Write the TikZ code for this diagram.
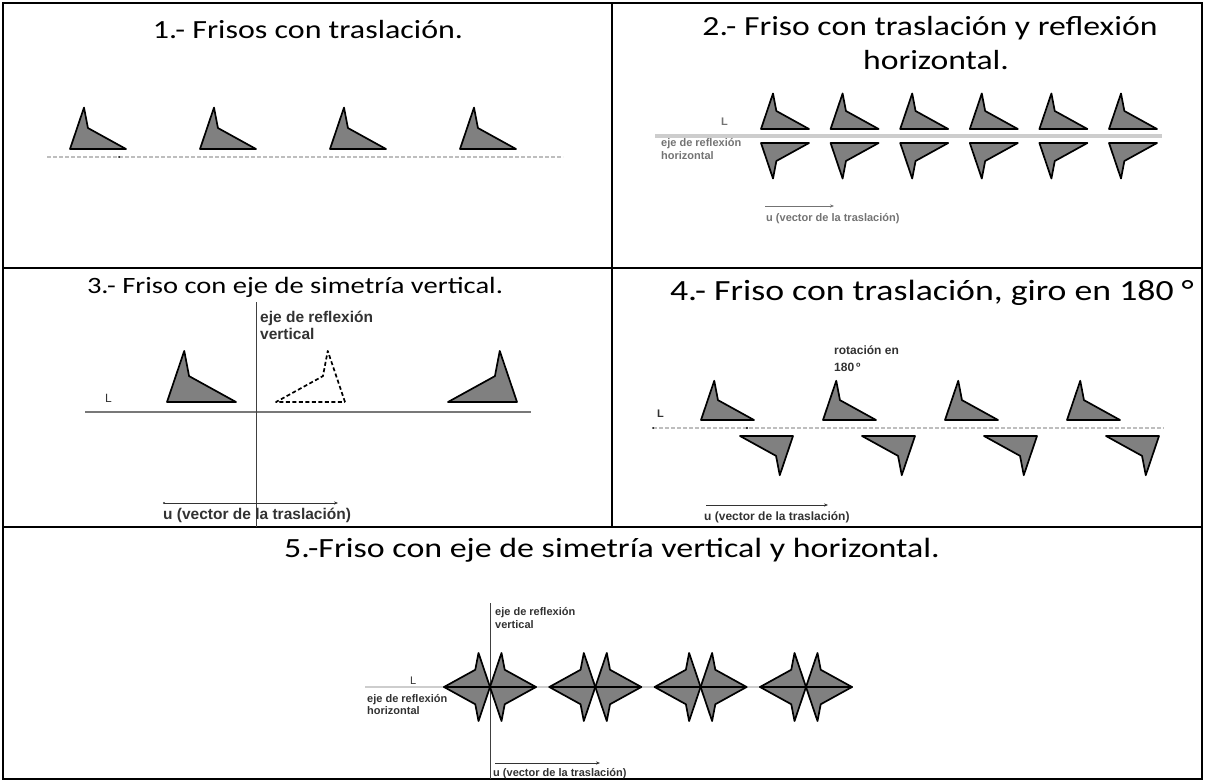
\documentclass[tikz,border=0pt]{standalone}
\usepackage{fontspec}
\setmainfont{Carlito}
\newfontfamily\titlefont{Carlito}[FakeStretch=1.22]
\newfontfamily\lblfont{Liberation Sans}
\usetikzlibrary{arrows.meta}
\definecolor{figgray}{RGB}{128,128,128}
\definecolor{dashgray}{RGB}{190,190,190}
\definecolor{axisgray}{RGB}{120,120,120}
\definecolor{lightaxis}{RGB}{205,205,205}
\definecolor{lbltext}{RGB}{50,50,50}
\tikzset{
  fig/.style={draw=black, line width=1.7pt, fill=figgray, line join=round},
  dfig/.style={draw=black, line width=1.7pt, dash pattern=on 4pt off 2.5pt, line join=round},
  motif/.pic={\path[fig] (0,0) -- (0.25,-0.74) -- (0.32,-0.375) -- (1,0) -- cycle;},
  dmotif/.pic={\path[dfig] (0,0) -- (0.25,-0.74) -- (0.32,-0.375) -- (1,0) -- cycle;},
  dashline/.style={draw=dashgray, line width=1.6pt, dash pattern=on 4pt off 2pt},
  axisline/.style={draw=axisgray, line width=1.1pt},
  grid/.style={draw=black, line width=2pt},
  title/.style={anchor=base, inner sep=0pt},
  lbl/.style={anchor=base west, inner sep=0pt, text=lbltext},
  small/.style={font=\lblfont\bfseries\fontsize{11}{13}\selectfont},
  mid/.style={font=\lblfont\bfseries\fontsize{12}{14}\selectfont},
  big/.style={font=\lblfont\bfseries\fontsize{15.5}{17}\selectfont},
  uarrow/.style={draw=black!80, line width=0.8pt, -{Stealth[length=4pt,width=3.2pt]}},
}
\begin{document}
\begin{tikzpicture}[x=1pt,y=-1pt]
\useasboundingbox (0,0) rectangle (1205,781);
% ---- table grid ----
\coordinate (tl) at (3,3);
\coordinate (br) at (1202,779);
\coordinate (r1l) at (3,268);
\coordinate (r1r) at (1202,268);
\coordinate (r2l) at (3,527);
\coordinate (r2r) at (1202,527);
\coordinate (ct) at (612,3);
\coordinate (cb) at (612,527);
\draw[grid] (tl) rectangle (br);
\draw[grid] (r1l) -- (r1r);
\draw[grid] (r2l) -- (r2r);
\draw[grid] (ct) -- (cb);

% ---- panel 1 ----
\node[title, font=\titlefont\fontsize{26.2}{32}\selectfont] (t1) at (308,39) {1.- Frisos con traslación.};
\coordinate (p1a) at (47,157);
\coordinate (p1b) at (563,157);
\draw[dashline] (p1a) -- (p1b);
\fill (119,157) circle (1pt);
\foreach \i in {0,...,3} {\pic[scale=56] at (70+130*\i,149) {motif};}

% ---- panel 2 ----
\node[title, font=\titlefont\fontsize{27.6}{34}\selectfont] (t2a) at (930,36) {2.- Friso con traslación y reflexión};
\node[title, font=\titlefont\fontsize{27.6}{34}\selectfont] (t2b) at (936,70) {horizontal.};
\coordinate (p2a) at (655,136);
\coordinate (p2b) at (1162,136);
\draw[draw=lightaxis, line width=4pt] (p2a) -- (p2b);
\foreach \i in {0,...,5} {
  \pic[scale=48] at (761+69.6*\i,129) {motif};
  \pic[xscale=48,yscale=-48] at (761+69.6*\i,143) {motif};
}
\node[lbl, small, text=black!55] (l2) at (721,126) {L};
\node[lbl, small, text=black!55] (e2a) at (661,147) {eje de reflexión};
\node[lbl, small, text=black!55] (e2b) at (661,160) {horizontal};
\coordinate (u2a) at (765,206);
\coordinate (u2b) at (834,206);
\draw[uarrow, draw=black!55] (u2a) -- (u2b);
\node[lbl, small, text=black!55] (u2) at (766,221) {u (vector de la traslación)};

% ---- panel 3 ----
\node[title, font=\titlefont\fontsize{23.4}{28}\selectfont] (t3) at (295,293) {3.- Friso con eje de simetría vertical.};
\coordinate (p3a) at (85,412);
\coordinate (p3b) at (531,412);
\coordinate (p3c) at (256,302);
\coordinate (p3d) at (256,527);
\draw[axisline] (p3a) -- (p3b);
\draw[draw=black!75, line width=1pt] (p3c) -- (p3d);
\pic[scale=69] at (167,402) {motif};
\pic[xscale=-69,yscale=69] at (345,402) {dmotif};
\pic[xscale=-69,yscale=69] at (517,402) {motif};
\node[lbl, font=\lblfont\fontsize{12}{14}\selectfont] (l3) at (105,402) {L};
\node[lbl, big] (e3a) at (260,322) {eje de reflexión};
\node[lbl, big] (e3b) at (260,339) {vertical};
\coordinate (u3a) at (164,503);
\coordinate (u3b) at (338,503);
\draw[uarrow] (u3a) -- (u3b);
\fill[black!80] (u3a) circle (1.2pt);
\node[lbl, big] (u3) at (163,519) {u (vector de la traslación)};

% ---- panel 4 ----
\node[title, font=\titlefont\fontsize{29.3}{35}\selectfont] (t4) at (932,300) {4.- Friso con traslación, giro en 180 °};
\coordinate (p4a) at (653,428);
\coordinate (p4b) at (1164,428);
\draw[dashline] (p4a) -- (p4b);
\fill (p4a) circle (1pt);
\fill (747,428) circle (1.2pt);
\foreach \i in {0,...,3} {
  \pic[scale=53] at (701+122*\i,420) {motif};
  \pic[scale=-53] at (793+122*\i,436) {motif};
}
\node[lbl, mid] (r4a) at (834,354) {rotación en};
\node[lbl, mid] (r4b) at (834,371) {180\,º};
\node[lbl, small] (l4) at (657,417) {L};
\coordinate (u4a) at (706,505);
\coordinate (u4b) at (828,505);
\draw[uarrow] (u4a) -- (u4b);
\node[lbl, mid] (u4) at (704,520) {u (vector de la traslación)};

% ---- panel 5 ----
\node[title, font=\titlefont\fontsize{27.8}{34}\selectfont] (t5) at (612,557) {5.-Friso con eje de simetría vertical y horizontal.};
\coordinate (p5a) at (365,687);
\coordinate (p5b) at (853,687);
\coordinate (p5c) at (490,603);
\coordinate (p5d) at (490,779);
\draw[draw=lightaxis, line width=1.6pt] (p5a) -- (p5b);
\draw[draw=black!75, line width=1pt] (p5c) -- (p5d);
\foreach \c in {490,595.3,700.6,806} {
  \pic[xscale=46,yscale=46] at (\c,687) {motif};
  \pic[xscale=-46,yscale=46] at (\c,687) {motif};
  \pic[xscale=46,yscale=-46] at (\c,687) {motif};
  \pic[xscale=-46,yscale=-46] at (\c,687) {motif};
}
\node[lbl, small] (e5a) at (495,615) {eje de reflexión};
\node[lbl, small] (e5b) at (495,628) {vertical};
\node[lbl, font=\lblfont\fontsize{11}{13}\selectfont] (l5) at (410,684) {L};
\node[lbl, small] (e5c) at (367,702) {eje de reflexión};
\node[lbl, small] (e5d) at (367,714) {horizontal};
\coordinate (u5a) at (495,763);
\coordinate (u5b) at (600,763);
\draw[uarrow] (u5a) -- (u5b);
\node[lbl, small] (u5) at (493,776) {u (vector de la traslación)};
\end{tikzpicture}
\end{document}
